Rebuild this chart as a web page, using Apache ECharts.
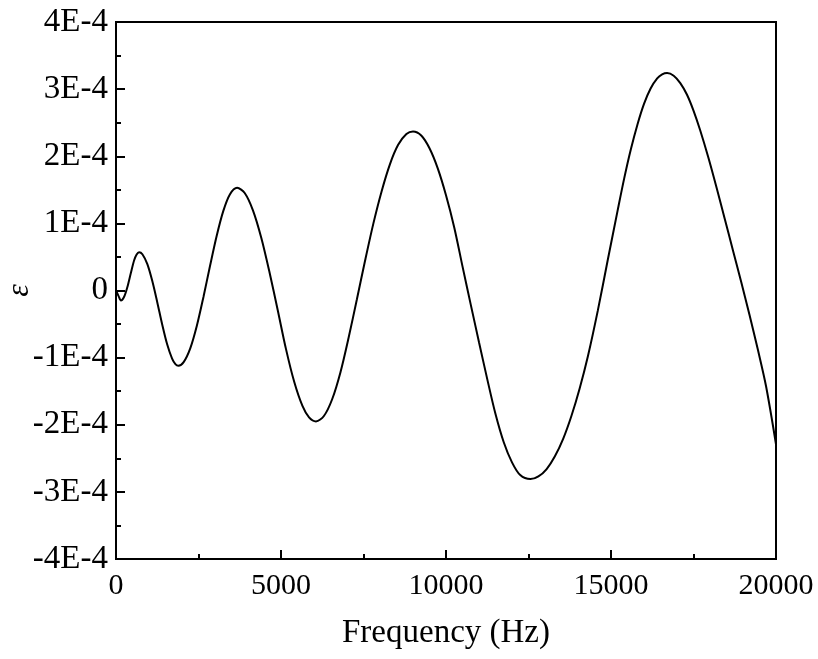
<!DOCTYPE html>
<html>
<head>
<meta charset="utf-8">
<script src="https://cdn.jsdelivr.net/npm/echarts@6/dist/echarts.min.js"></script>
<style>html,body{margin:0;padding:0;background:#fff}#c{width:818px;height:659px}</style>
</head>
<body>
<div id="c"></div>
<script>
// frequency in Hz
var freq = [0,75,150,250,350,450,550,625,700,800,950,1100,1250,1400,1550,1700,1800,1890,
  2050,2250,2450,2650,2850,3050,3250,3450,3670,3900,4150,4400,4650,4900,5150,5400,5650,5850,6060,
  6300,6550,6800,7050,7300,7550,7800,8050,8300,8550,8800,9000,
  9250,9500,9750,10000,10250,10500,10750,11000,11250,11500,11750,12000,12250,12560,
  12800,13050,13300,13550,13800,14050,14300,14600,14900,15200,15400,15600,15800,16000,16200,16400,16550,16700,
  16900,17100,17300,17500,17700,17950,18200,18450,18700,18950,19200,19450,19700,20000];
// strain epsilon, in units of 1E-4
var eps = [0,-0.08,-0.15,-0.09,0.06,0.26,0.45,0.537,0.57,0.54,0.393,0.141,-0.174,-0.507,-0.802,-1.015,-1.096,-1.12,
  -1.067,-0.862,-0.525,-0.096,0.368,0.812,1.182,1.431,1.53,1.452,1.194,0.789,0.275,-0.29,-0.87,-1.36,-1.72,-1.89,-1.95,
  -1.87,-1.62,-1.22,-0.70,-0.13,0.45,1.00,1.48,1.88,2.17,2.33,2.37,
  2.31,2.12,1.82,1.42,0.94,0.36,-0.21,-0.77,-1.32,-1.84,-2.26,-2.56,-2.75,-2.81,
  -2.77,-2.66,-2.47,-2.21,-1.87,-1.46,-0.98,-0.30,0.45,1.19,1.67,2.10,2.47,2.78,3.01,3.16,3.22,3.24,
  3.20,3.09,2.92,2.68,2.39,1.98,1.53,1.06,0.59,0.12,-0.37,-0.88,-1.43,-2.29];
var xTicks = [0,5000,10000,15000,20000];
var yTickLabels = ['-4E-4','-3E-4','-2E-4','-1E-4','0','1E-4','2E-4','3E-4','4E-4'];

var data = freq.map(function(f,i){return [f, eps[i]];});
var chart = echarts.init(document.getElementById('c'), null, {renderer:'canvas'});
var font = 'Liberation Serif';
chart.setOption({
  animation:false,
  backgroundColor:'#fff',
  grid:{left:116,right:42,top:22,bottom:100,containLabel:false,outerBoundsMode:'none',
    show:true,borderColor:'#000',borderWidth:2,backgroundColor:'transparent'},
  xAxis:{
    type:'value',min:0,max:20000,interval:5000,
    name:'Frequency (Hz)',nameLocation:'middle',nameGap:58,nameMoveOverlap:false,
    nameTextStyle:{fontFamily:font,fontSize:33,color:'#000'},
    axisLine:{show:true,onZero:false,lineStyle:{color:'#000',width:2}},
    axisTick:{show:true,inside:true,length:9,lineStyle:{color:'#000',width:2}},
    minorTick:{show:true,splitNumber:2,length:5,lineStyle:{color:'#000',width:2}},
    splitLine:{show:false},
    axisLabel:{fontFamily:font,fontSize:30,color:'#000',margin:12,
      formatter:function(v){return xTicks.indexOf(v)>=0?String(v):'';}}
  },
  yAxis:{
    type:'value',min:-4,max:4,interval:1,
    name:'ε',nameLocation:'middle',nameGap:80,nameRotate:90,nameMoveOverlap:false,
    nameTextStyle:{fontFamily:font,fontSize:32,fontStyle:'italic',color:'#000'},
    axisLine:{show:true,onZero:false,lineStyle:{color:'#000',width:2}},
    axisTick:{show:true,inside:true,length:9,lineStyle:{color:'#000',width:2}},
    minorTick:{show:true,splitNumber:2,length:5,lineStyle:{color:'#000',width:2}},
    splitLine:{show:false},
    axisLabel:{fontFamily:font,fontSize:33,color:'#000',margin:8,
      formatter:function(v){return yTickLabels[Math.round(v)+4];}}
  },
  series:[{
    type:'line',data:data,smooth:0.3,showSymbol:false,clip:true,
    lineStyle:{color:'#000',width:2}
  }]
});
</script>
</body>
</html>
